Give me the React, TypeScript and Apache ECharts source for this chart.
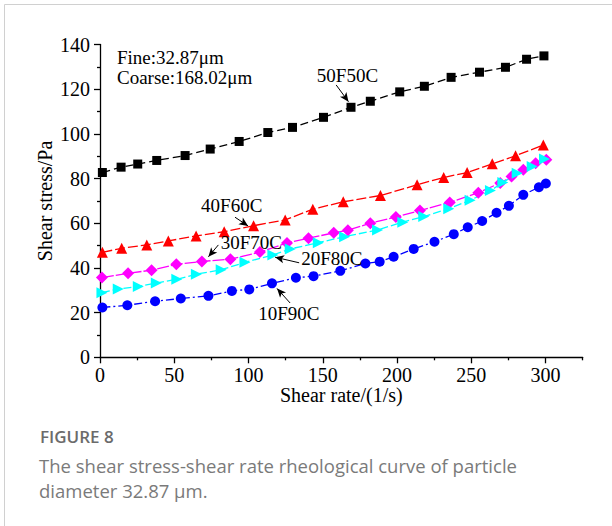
import React, { useEffect, useRef } from "react";
import * as echarts from "echarts";

// ---- data (shear rate 1/s, shear stress Pa) ----
const rate50F50C = [1.6, 14.2, 25.4, 38.2, 57.3, 74.2, 93.7, 113, 129.6, 150.5, 169, 182, 201.8, 218.4, 236.4, 255.5, 273, 287.2, 298.9];
const stress50F50C = [82.7, 85.1, 86.5, 88.1, 90.3, 93.2, 96.6, 100.6, 102.9, 107.4, 111.9, 114.6, 118.8, 121.3, 125.3, 127.6, 129.8, 133.4, 134.9];

const rate40F60C = [1.6, 14.6, 31.5, 46, 64.7, 83.6, 103.4, 124.7, 143.3, 163.8, 188.8, 213.5, 231.4, 247.2, 264.1, 279.8, 298.5];
const stress40F60C = [47.0, 48.8, 50.3, 52.1, 54.3, 56.2, 58.9, 61.5, 66.3, 69.6, 72.4, 77.2, 80.5, 82.7, 86.6, 90.2, 95.0];

const rate30F70C = [1.3, 18.9, 34.7, 51.4, 68.6, 87.8, 107.7, 125.9, 140.4, 157.4, 166.9, 182, 199.2, 215.4, 235.5, 254.7, 269.5, 277.1, 285, 293.3, 300.5];
const stress30F70C = [35.7, 37.6, 39.0, 41.6, 42.9, 43.9, 47.1, 51.2, 53.3, 55.7, 56.9, 60.0, 62.8, 65.7, 69.3, 73.7, 78.0, 80.9, 83.9, 86.9, 88.4];

const rate20F80C = [1.3, 12.3, 25.8, 37.9, 51.7, 64.9, 81.6, 97.6, 116.4, 128.1, 147, 164.7, 186.9, 203.9, 218, 234.8, 249.2, 262.9, 271.2, 280.9, 291, 299.3];
const stress20F80C = [28.9, 30.6, 31.7, 33.2, 34.9, 37.2, 39.2, 42.5, 45.8, 48.5, 51.3, 54.0, 57.0, 60.5, 63.0, 66.5, 70.3, 74.6, 78.2, 82.4, 85.4, 88.7];

const rate10F90C = [1.6, 18.4, 37.1, 54.4, 73, 88.8, 100.5, 115.8, 131.9, 143.8, 161.8, 178.7, 188.3, 197.7, 211.2, 225.2, 238.2, 247.6, 257.3, 267, 275.3, 285, 295.5, 300.2];
const stress10F90C = [22.3, 23.3, 25.1, 26.3, 27.5, 29.7, 30.4, 33.1, 35.6, 36.3, 38.7, 42.0, 42.8, 45.0, 48.5, 51.7, 55.1, 58.2, 61.0, 64.7, 67.8, 72.7, 76.1, 77.8];

const xMajorTicks = [0, 50, 100, 150, 200, 250, 300];
const xMinorTicks = [25, 75, 125, 175, 225, 275, 325];

// annotation labels (data coordinates): text centre, arrow start, arrow end
const annotationTexts = ["50F50C", "40F60C", "30F70C", "20F80C", "10F90C"];
const annotationTextPos = [[166.6, 126.0], [88.7, 68.0], [101.9, 51.6], [156.1, 44.4], [127.1, 19.6]];
const annotationArrowFrom = [[159.0, 121.9], [90.9, 62.7], [79.7, 50.3], [134.1, 42.3], [128.0, 24.3]];
const annotationArrowTo = [[167.3, 114.4], [99.7, 58.8], [73.0, 45.0], [117.9, 44.8], [119.2, 30.8]];

const infoLines = ["Fine:32.87\u03bcm", "Coarse:168.02\u03bcm"];
const captionTitle = "FIGURE 8";
const captionLines = [
  "The shear stress-shear rate rheological curve of particle",
  "diameter 32.87 \u03bcm.",
];

const SERIF = "'Liberation Serif', 'Times New Roman', serif";
const SANS = "'Open Sans', 'Noto Sans', sans-serif";

const zip = (xs: number[], ys: number[]) => xs.map((x, i) => [x, ys[i]]);

export default function App() {
  const ref = useRef<HTMLDivElement>(null);

  useEffect(() => {
    if (!ref.current) return;
    const chart = echarts.init(ref.current, undefined, { renderer: "svg" });

    const mkSeries = (name: string, xs: number[], ys: number[], color: string, symbol: string, size: number, dash: number[], rotate = 0) => ({
      name,
      type: "line",
      xAxisIndex: 0,
      yAxisIndex: 0,
      data: zip(xs, ys),
      symbol,
      symbolSize: size,
      symbolRotate: rotate,
      showAllSymbol: true,
      itemStyle: { color },
      lineStyle: { color, width: 1.3, type: dash },
      emphasis: { disabled: true },
    });

    const black: any = mkSeries("50F50C", rate50F50C, stress50F50C, "#000000", "rect", 9, [8, 4]);
    black.markPoint = {
      symbol: "circle",
      symbolSize: 0,
      silent: true,
      itemStyle: { color: "transparent" },
      label: { show: true, position: "inside", color: "#000", fontFamily: SERIF, fontSize: 19 },
      data: annotationTexts.map((t, i) => ({
        coord: annotationTextPos[i],
        value: 0,
        label: { formatter: t },
      })),
    };
    black.markLine = {
      symbol: ["none", "arrow"],
      symbolSize: [6, 9],
      silent: true,
      lineStyle: { color: "#000", width: 1, type: "solid" },
      itemStyle: { color: "#000" },
      label: { show: false },
      data: annotationTexts.map((_, i) => [
        { coord: annotationArrowFrom[i] },
        { coord: annotationArrowTo[i] },
      ]),
    };

    const option: any = {
      animation: false,
      grid: { left: 100, top: 44.5, right: 29.3, bottom: 168.7, containLabel: false, outerBoundsMode: "none" },
      xAxis: [
        {
          type: "value",
          min: 0,
          max: 325,
          position: "bottom",
          name: "Shear rate/(1/s)",
          nameLocation: "middle",
          nameGap: 28,
          nameMoveOverlap: false,
          nameTextStyle: { color: "#000", fontFamily: SERIF, fontSize: 20, verticalAlign: "top" },
          axisLine: { show: true, lineStyle: { color: "#000", width: 1.3 } },
          axisTick: { show: true, length: 6, lineStyle: { color: "#000", width: 1.3 }, customValues: xMajorTicks },
          axisLabel: { color: "#000", fontFamily: SERIF, fontSize: 20, margin: 8, customValues: xMajorTicks },
          splitLine: { show: false },
        },
        {
          type: "value",
          min: 0,
          max: 325,
          position: "bottom",
          axisLine: { show: false },
          axisTick: { show: true, length: 3, lineStyle: { color: "#000", width: 1.3 }, customValues: xMinorTicks },
          axisLabel: { show: false },
          splitLine: { show: false },
        },
      ],
      yAxis: {
        type: "value",
        min: 0,
        max: 140,
        interval: 20,
        name: "Shear stress/Pa",
        nameLocation: "middle",
        nameRotate: 90,
        nameGap: 45,
        nameMoveOverlap: false,
        nameTextStyle: { color: "#000", fontFamily: SERIF, fontSize: 20 },
        axisLine: { show: true, lineStyle: { color: "#000", width: 1.3 } },
        axisTick: { show: true, length: 6, lineStyle: { color: "#000", width: 1.3 } },
        minorTick: { show: true, splitNumber: 2, length: 3, lineStyle: { color: "#000", width: 1.3 } },
        axisLabel: { color: "#000", fontFamily: SERIF, fontSize: 20, margin: 10 },
        splitLine: { show: false },
      },
      graphic: [
        {
          type: "rect",
          shape: { x: 4.5, y: 4.5, width: 800, height: 800 },
          style: { fill: "none", stroke: "#d0d0d0", lineWidth: 1 },
          silent: true,
        },
        ...infoLines.map((t, i) => ({
          type: "text",
          x: 117,
          y: 57 + i * 20,
          style: { text: t, fill: "#000", font: `19px ${SERIF}`, verticalAlign: "middle" },
          silent: true,
        })),
        {
          type: "text",
          x: 40,
          y: 436,
          style: { text: captionTitle, fill: "#6b6b6b", font: `600 17px ${SANS}`, verticalAlign: "middle" },
          silent: true,
        },
        ...captionLines.map((t, i) => ({
          type: "text",
          x: 39,
          y: 465 + i * 25.5,
          style: { text: t, fill: "#7a7a7a", font: `18.5px ${SANS}`, verticalAlign: "middle" },
          silent: true,
        })),
      ],
      series: [
        black,
        mkSeries("40F60C", rate40F60C, stress40F60C, "#ff0000", "triangle", 11, [10, 3]),
        mkSeries("30F70C", rate30F70C, stress30F70C, "#ff00ff", "diamond", 12, [12, 2]),
        mkSeries("20F80C", rate20F80C, stress20F80C, "#00ffff", "triangle", 11, [8, 3], -90),
        mkSeries("10F90C", rate10F90C, stress10F90C, "#0000ff", "circle", 10, [8, 3, 2, 3]),
      ],
    };

    chart.setOption(option);
    return () => chart.dispose();
  }, []);

  return (
    <div style={{ position: "absolute", left: 0, top: 0, width: 612, height: 526, background: "#fff" }}>
      <div ref={ref} style={{ width: 612, height: 526 }} />
    </div>
  );
}
